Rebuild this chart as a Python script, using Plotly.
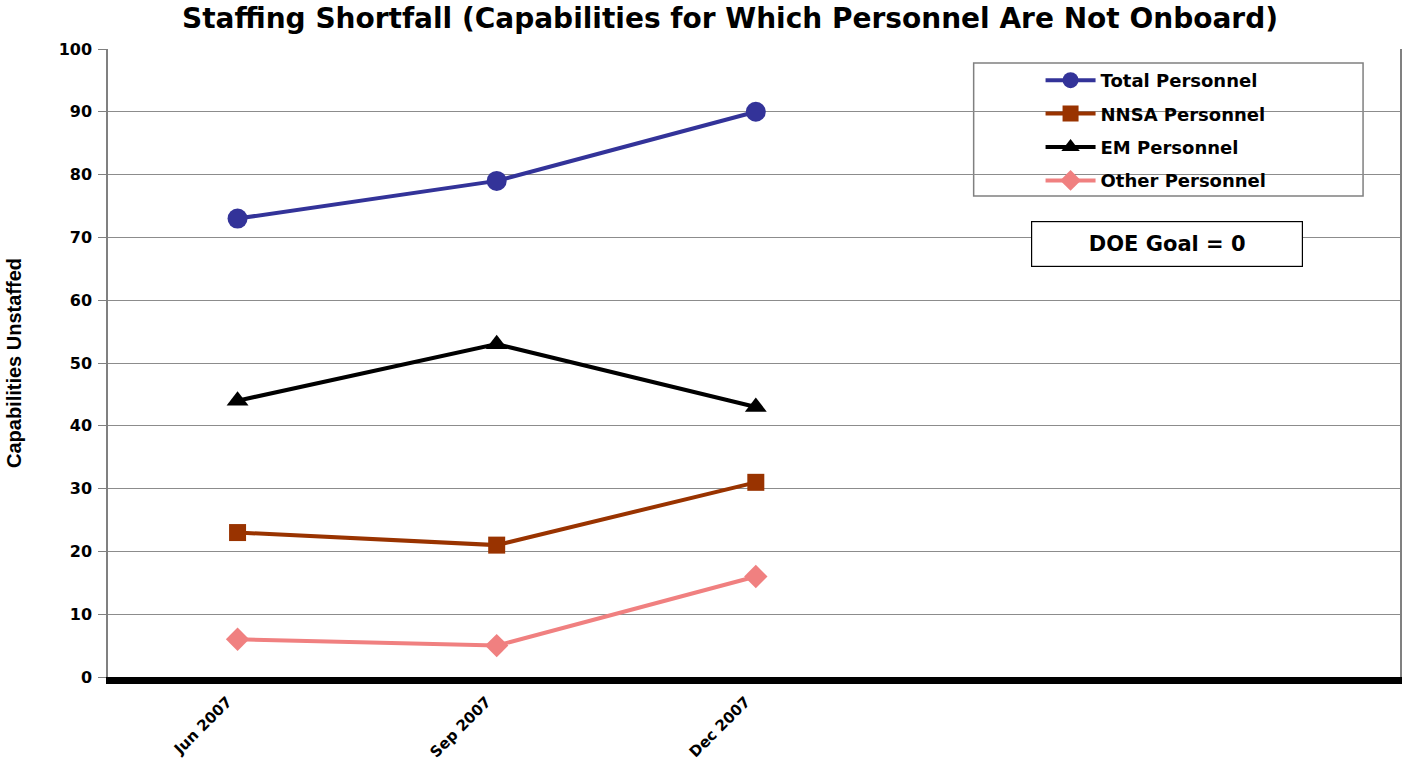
import plotly.graph_objects as go

categories = ["Jun 2007", "Sep 2007", "Dec 2007", "", ""]
series_names = ["Total Personnel", "NNSA Personnel", "EM Personnel", "Other Personnel"]
total_vals = [73, 79, 90]
nnsa_vals = [23, 21, 31]
em_vals = [44, 53, 43]
other_vals = [6, 5, 16]
y_ticks = [0, 10, 20, 30, 40, 50, 60, 70, 80, 90, 100]

colors = ["#333399", "#993300", "#000000", "#f08080"]
symbols = ["circle", "square", "triangle-up", "diamond"]
sizes = [20, 17, 19, 18]
values = [total_vals, nnsa_vals, em_vals, other_vals]

FONT = "Liberation Sans, Arial, sans-serif"
WIDE = "DejaVu Sans, Verdana, sans-serif"

L, R, T, B = 108, 0, 49, 90
W, H = 1402, 767
PW, PH = W - L - R, H - T - B

def px(x):
    return (x - L) / PW

def py(y):
    return (T + PH - y) / PH

fig = go.Figure()
for i, (name, vals) in enumerate(zip(series_names, values)):
    xs = list(range(len(vals)))
    fig.add_trace(go.Scatter(
        x=xs, y=vals, name=name, mode="lines+markers",
        line=dict(color=colors[i], width=4),
        marker=dict(symbol=symbols[i], size=sizes[i], color=colors[i]),
        legendgroup=f"g{i}",
    ))

fig.update_layout(
    width=W, height=H,
    margin=dict(l=L, r=R, t=T, b=B),
    paper_bgcolor="white", plot_bgcolor="white",
    title=dict(
        text="<b>Staffing Shortfall (Capabilities for Which Personnel Are Not Onboard)</b>",
        x=730 / W, xanchor="center", y=0.989, yanchor="top",
        font=dict(family=WIDE, size=28, color="black"),
    ),
    showlegend=True,
    legend=dict(
        x=px(1042), xanchor="left", y=py(62), yanchor="top",
        bgcolor="rgba(0,0,0,0)", borderwidth=0,
        font=dict(family=WIDE, size=18, color="black", weight="bold"),
        tracegroupgap=7, itemwidth=50,
    ),
    xaxis=dict(
        range=[-0.5, 4.486],
        tickmode="array", tickvals=list(range(len(categories))), ticktext=categories,
        tickangle=-45, showgrid=False, zeroline=False,
        showline=True, linecolor="black", linewidth=7,
        ticks="", ticklabelshift=-10, ticklabelstandoff=3,
        tickfont=dict(family=WIDE, size=15, color="black", weight="bold"),
    ),
    yaxis=dict(
        range=[0, 100], tickvals=y_ticks,
        showgrid=True, gridcolor="#8c8c8c", gridwidth=1, zeroline=False,
        showline=True, linecolor="#808080", linewidth=1.5, mirror=True,
        ticks="outside", ticklen=8, tickcolor="#808080", ticklabelstandoff=3,
        tickfont=dict(family=WIDE, size=16, color="black", weight="bold"),
        title=dict(text="<b>Capabilities Unstaffed</b>", standoff=32,
                   font=dict(family=FONT, size=20, color="black")),
    ),
    shapes=[dict(type="rect", xref="paper", yref="paper",
                 x0=px(975), x1=px(1365), y0=py(196), y1=py(63),
                 line=dict(color="#808080", width=1.5), fillcolor="rgba(0,0,0,0)",
                 layer="below")],
    annotations=[dict(
        text="<b>DOE Goal = 0</b>", xref="paper", yref="paper",
        x=px(1169), y=py(244), xanchor="center", yanchor="middle",
        showarrow=False, width=262, height=36, bgcolor="white",
        bordercolor="black", borderwidth=1.2, borderpad=4,
        font=dict(family=WIDE, size=21, color="black"),
    )],
)

fig.write_html("out.html")
